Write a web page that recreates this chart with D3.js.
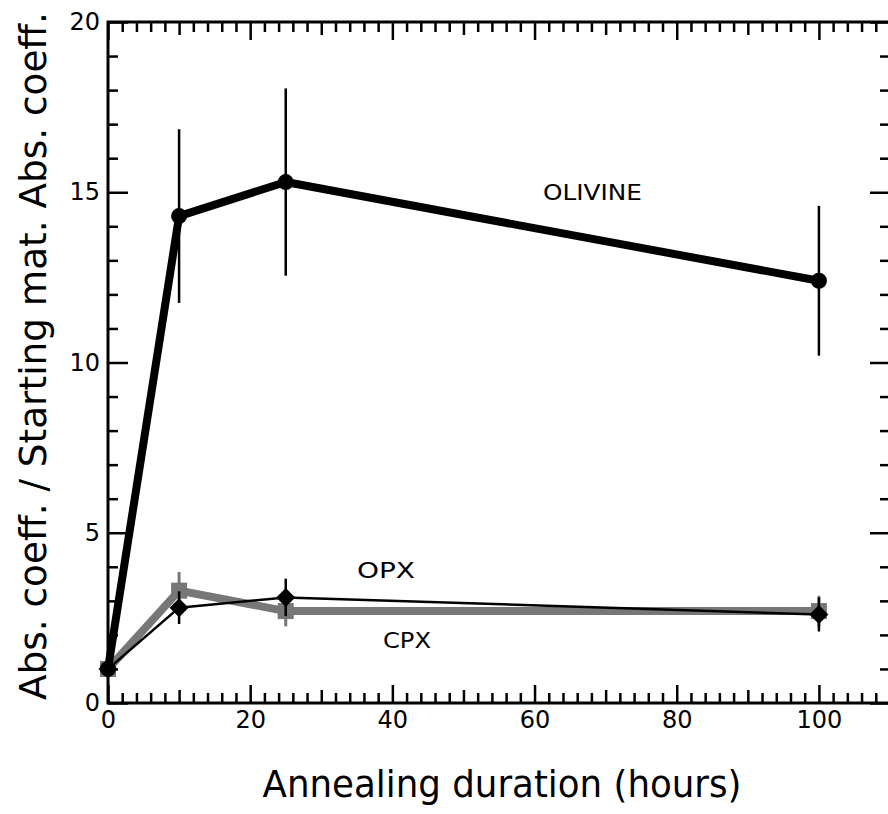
<!DOCTYPE html>
<html>
<head>
<meta charset="utf-8">
<script src="https://cdn.jsdelivr.net/npm/d3@7"></script>
<style>
  body { margin: 0; background: #fff; }
  text { font-family: "DejaVu Sans", sans-serif; }
</style>
</head>
<body>
<div id="chart-area"></div>
<script>
// data
var hours = [0, 10, 25, 100];
var olivine = [1.0, 14.3, 15.3, 12.4];
var olivineErr = [0, 2.55, 2.75, 2.2];
var opx = [1.0, 3.3, 2.7, 2.7];
var opxErr = [0, 0.55, 0.45, 0.45];
var cpx = [1.0, 2.8, 3.1, 2.6];
var cpxErr = [0, 0.48, 0.55, 0.5];
var xMajor = [0, 20, 40, 60, 80, 100];
var yMajor = [0, 5, 10, 15, 20];

var W = 888, H = 814;
var margin = { top: 22, right: -2, bottom: 111, left: 108 },
  width = W - margin.left - margin.right,
  height = H - margin.top - margin.bottom;

var svg = d3.select('#chart-area')
  .append('svg')
    .attr('width', W)
    .attr('height', H);

var g = svg.append('g')
  .attr('transform', 'translate(' + margin.left + ', ' + margin.top + ')');

var xScale = d3.scaleLinear().domain([0, 110]).range([0, width]);
var yScale = d3.scaleLinear().domain([0, 20]).range([height, 0]);

var xMinor = d3.range(0, 111, 2).filter(v => v % 10 !== 0);
var xMid = d3.range(10, 111, 20);
var yMinor = d3.range(0, 21, 1).filter(v => v % 5 !== 0);

// draw a set of inward ticks; labels only when asked
function ticks(axisFn, scale, values, size, translate, labels) {
  var ax = axisFn(scale).tickValues(values).tickSizeInner(-size).tickSizeOuter(0)
    .tickPadding(8);
  if (!labels) ax.tickFormat('');
  var grp = g.append('g').attr('transform', translate).call(ax);
  grp.select('.domain').remove();
  grp.selectAll('.tick line').attr('stroke', '#000').attr('stroke-width', 2.5);
  grp.selectAll('text').attr('font-size', '24px').attr('fill', '#000')
    .attr('font-family', '"DejaVu Sans", sans-serif');
  return grp;
}

var bottom = 'translate(0,' + height + ')';
ticks(d3.axisBottom, xScale, xMinor, 10, bottom, false);
ticks(d3.axisBottom, xScale, xMid, 13, bottom, false);
ticks(d3.axisBottom, xScale, xMajor, 18, bottom, true);
ticks(d3.axisTop, xScale, xMinor, 10, 'translate(0,0)', false);
ticks(d3.axisTop, xScale, xMid, 13, 'translate(0,0)', false);
ticks(d3.axisTop, xScale, xMajor, 18, 'translate(0,0)', false);
ticks(d3.axisLeft, yScale, yMinor, 10, 'translate(0,0)', false);
ticks(d3.axisLeft, yScale, yMajor, 20, 'translate(0,0)', true);
ticks(d3.axisRight, yScale, yMinor, 10, 'translate(' + width + ',0)', false);
ticks(d3.axisRight, yScale, yMajor, 20, 'translate(' + width + ',0)', false);

// frame
g.append('rect')
  .attr('x', 0).attr('y', 0)
  .attr('width', width).attr('height', height)
  .attr('fill', 'none')
  .attr('stroke', '#000')
  .attr('stroke-width', 3);

// axis titles
g.append('text')
  .attr('x', 502 - margin.left)
  .attr('y', height + 94)
  .attr('text-anchor', 'middle')
  .attr('font-size', '38px')
  .attr('textLength', 479)
  .attr('lengthAdjust', 'spacingAndGlyphs')
  .text('Annealing duration (hours)');

g.append('text')
  .attr('transform', 'rotate(-90)')
  .attr('x', -(356 - margin.top))
  .attr('y', -62)
  .attr('text-anchor', 'middle')
  .attr('font-size', '38px')
  .attr('textLength', 688)
  .attr('lengthAdjust', 'spacingAndGlyphs')
  .text('Abs. coeff. / Starting mat. Abs. coeff.');

function series(values, errs, color, lw, ew) {
  var pts = hours.map((h, i) => ({ x: h, y: values[i], e: errs[i] }));
  var s = g.append('g');
  s.selectAll('line.err')
    .data(pts.filter(d => d.e > 0))
    .enter().append('line')
      .attr('class', 'err')
      .attr('x1', d => xScale(d.x)).attr('x2', d => xScale(d.x))
      .attr('y1', d => yScale(d.y - d.e)).attr('y2', d => yScale(d.y + d.e))
      .attr('stroke', color).attr('stroke-width', ew);
  s.append('path')
    .datum(pts)
    .attr('d', d3.line().x(d => xScale(d.x)).y(d => yScale(d.y)))
    .attr('fill', 'none')
    .attr('stroke', color)
    .attr('stroke-width', lw)
    .attr('stroke-linejoin', 'round');
  return { grp: s, pts: pts };
}

// OPX (grey squares)
var o = series(opx, opxErr, '#777777', 8, 3);
o.grp.selectAll('rect.m')
  .data(o.pts)
  .enter().append('rect')
    .attr('x', d => xScale(d.x) - 8).attr('y', d => yScale(d.y) - 8)
    .attr('width', 16).attr('height', 16)
    .attr('fill', '#777777');

// CPX (black diamonds)
var c = series(cpx, cpxErr, '#000', 2.5, 2.5);
c.grp.selectAll('path.m')
  .data(c.pts)
  .enter().append('path')
    .attr('d', d3.symbol().type(d3.symbolDiamond2).size(230))
    .attr('transform', d => 'translate(' + xScale(d.x) + ',' + yScale(d.y) + ')')
    .attr('fill', '#000');

// olivine (black circles)
var ol = series(olivine, olivineErr, '#000', 8, 2.5);
ol.grp.selectAll('circle')
  .data(ol.pts)
  .enter().append('circle')
    .attr('cx', d => xScale(d.x)).attr('cy', d => yScale(d.y))
    .attr('r', 8)
    .attr('fill', '#000');

// series labels
function label(txt, x, y, len) {
  g.append('text').attr('x', x).attr('y', y).attr('font-size', '22px')
    .attr('textLength', len).attr('lengthAdjust', 'spacingAndGlyphs')
    .text(txt);
}
label('OLIVINE', 435, 178, 99);
label('OPX', 249, 556, 58);
label('CPX', 275, 626, 48);
</script>
</body>
</html>
